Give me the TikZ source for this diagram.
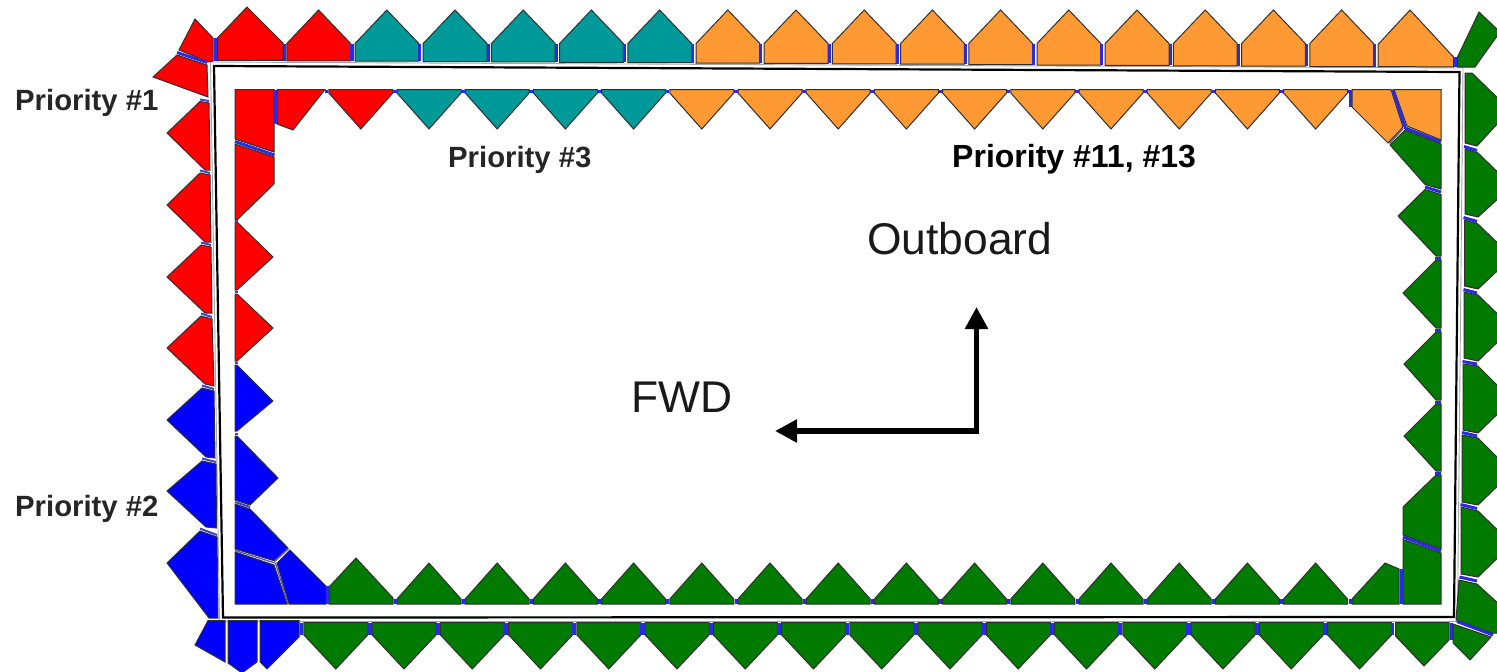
\documentclass[tikz,border=0pt]{standalone}
\usepackage{fontspec}
\setmainfont{Liberation Sans}
\usetikzlibrary{arrows.meta}
\definecolor{cred}{HTML}{FF0000}
\definecolor{cblue}{HTML}{0000FF}
\definecolor{cteal}{HTML}{009999}
\definecolor{corange}{HTML}{FF9933}
\definecolor{cgreen}{HTML}{007A00}
\definecolor{cgap}{HTML}{2A2AE0}
\definecolor{cedge}{HTML}{303030}
\tikzset{
  piece/.style={draw=cedge,line width=1pt,line join=miter,miter limit=3},
  gapline/.style={draw=cgap,line width=3pt},
  softgap/.style={draw=cgap!70!gray,line width=2pt},
  thinseam/.style={draw=cgap!55!gray,line width=1.2pt},
  greyjoin/.style={draw=black!60,line width=1.6pt},
  framehalo/.style={draw=black!35,line width=0.9pt},
  frameline/.style={draw=black,line width=2.2pt,line join=miter},
  tagtext/.style={inner sep=0pt,anchor=base west,text=black!85,font=\bfseries\fontsize{29.3}{29}\selectfont},
  tagdark/.style={inner sep=0pt,anchor=base west,text=black,font=\bfseries\fontsize{32}{32}\selectfont},
  dirtext/.style={inner sep=0pt,anchor=base west,text=black!90,font=\fontsize{44.4}{44}\selectfont},
  dirarrow/.style={draw=black,line width=5.5pt,-{Triangle[length=22pt,width=22pt]}}
}
\begin{document}
\begin{tikzpicture}[x=1pt,y=-1pt]
\path[use as bounding box,clip] (0,0) rectangle (1497,672);
\fill[white] (0,0) rectangle (1497,672);

% ---------- frame
\draw[framehalo] (210.5,62) -- (1463,68) -- (1457.5,621.5) -- (219.5,621.5) -- cycle;
\draw[frameline] (214,66) -- (1459.5,72) -- (1454,617) -- (223,617.5) -- cycle;

% ---------- outer top row
\foreach \k/\co in {-2/cred,-1/cteal,0/cteal,1/cteal,2/cteal,3/cteal,4/corange,5/corange,6/corange,7/corange,8/corange,9/corange,10/corange,11/corange,12/corange,13/corange}{
  \pgfmathsetmacro{\g}{421+68.2*\k}
  \pgfmathsetmacro{\b}{60+(\g-217)*0.00565}
  \pgfmathsetmacro{\xl}{\g+2.2}
  \pgfmathsetmacro{\xr}{\g+66}
  \pgfmathsetmacro{\xt}{\g+34}
  \pgfmathsetmacro{\xh}{\g+67.1}
  \pgfmathsetmacro{\bb}{\b+0.4}
  \filldraw[piece,fill=\co] (\xl,\bb) -- (\xl,43.5) -- (\xt,10) -- (\xr,43.5) -- (\xr,\bb) -- cycle;
  \draw[gapline] (\xh,44) -- (\xh,\bb);
}
\draw[gapline] (284.6,44) -- (284.6,60.5);
\draw[gapline] (215.5,38) -- (215.5,60.5);
\filldraw[piece,fill=cred] (217.5,38) -- (247,7) -- (283,43) -- (283,60.4) -- (217.5,60.4) -- cycle;
\draw[gapline] (352.8,44) -- (352.8,60.8);
\filldraw[piece,fill=corange] (1378,66.5) -- (1378,44.5) -- (1410,10) -- (1453.5,57) -- (1453.5,67) -- cycle;
\draw[gapline] (1455.5,57) -- (1455.5,67);
\filldraw[piece,fill=cgreen] (1457.5,57) -- (1479,12) -- (1500,32) -- (1475,67) -- (1457.5,67) -- cycle;

% ---------- outer left column
\filldraw[piece,fill=cred] (179,50) -- (195,19) -- (213,38) -- (213,61) -- (208,62) -- cycle;
\filldraw[piece,fill=cred] (177,55) -- (207,65) -- (208,97) -- (153,77) -- cycle;
\draw[gapline] (177,52.5) -- (207,62.5);
\filldraw[piece,fill=cred] (200,101.5) -- (209,103) -- (210,170) -- (205,170) -- (167,133) -- cycle;
\filldraw[piece,fill=cred] (200,173) -- (210,175) -- (211,242) -- (205,242) -- (167,205) -- cycle;
\filldraw[piece,fill=cred] (201,245) -- (211,247) -- (212,313) -- (205,313) -- (167,277) -- cycle;
\filldraw[piece,fill=cred] (201,316) -- (212,319) -- (214,386) -- (205,384) -- (167,348) -- cycle;
\filldraw[piece,fill=cblue] (202,388) -- (214,391) -- (215,458) -- (206,457) -- (167,420) -- cycle;
\filldraw[piece,fill=cblue] (202,461) -- (216,464) -- (216.5,528) -- (206,527) -- (167,491) -- cycle;
\filldraw[piece,fill=cblue] (200,531) -- (217,537) -- (218,618) -- (209,618) -- (180,580) -- (167,563) -- cycle;
\draw[softgap] (200,99.5) -- (209,101);
\draw[softgap] (200,170.5) -- (210,173);
\draw[softgap] (201,242.5) -- (211,245);
\draw[softgap] (201,313.5) -- (212,317);
\draw[softgap] (202,385.5) -- (214,389);
\draw[softgap] (202,458.5) -- (216,462);
\draw[softgap] (200,528.5) -- (217,535);

% ---------- outer bottom row
\filldraw[piece,fill=cblue] (208,620.5) -- (225,620.5) -- (225,662) -- (195,645) -- cycle;
\filldraw[piece,fill=cblue] (228,620.5) -- (257,620.5) -- (257,662) -- (242,673) -- (228,663) -- cycle;
\filldraw[piece,fill=cblue] (260,620.5) -- (299,620.5) -- (299,637) -- (267,669) -- (260,662) -- cycle;
\foreach \k in {-1,0,1,2,3,4,5,6,7,8,9,10,11,12,13,14}{
  \pgfmathsetmacro{\g}{370+68.25*\k}
  \pgfmathsetmacro{\xl}{\g+2.2}
  \pgfmathsetmacro{\xr}{\g+66}
  \pgfmathsetmacro{\xt}{\g+34}
  \pgfmathsetmacro{\xh}{\g+67.1}
  \filldraw[piece,fill=cgreen] (\xl,622.5) -- (\xr,622.5) -- (\xr,635) -- (\xt,669) -- (\xl,635) -- cycle;
  \draw[gapline] (\g,623) -- (\g,635);
  \draw[gapline] (\xh,623) -- (\xh,635);
}
\filldraw[piece,fill=cgreen] (1395.5,622.5) -- (1449,622.5) -- (1449,640) -- (1424,666) -- (1395.5,636) -- cycle;
\draw[gapline] (1451,623) -- (1451,640);
\filldraw[piece,fill=cgreen] (1453,624) -- (1491,637) -- (1470,660) -- (1453,643) -- cycle;

% ---------- outer right column
\filldraw[piece,fill=cgreen] (1465,73) -- (1472,73) -- (1510,110) -- (1477,146) -- (1465,143) -- cycle;
\filldraw[piece,fill=cgreen] (1465,149) -- (1478,153) -- (1512,186) -- (1478,217) -- (1465,214) -- cycle;
\filldraw[piece,fill=cgreen] (1464.5,220) -- (1478,224) -- (1512,257) -- (1478,289) -- (1464.5,286) -- cycle;
\filldraw[piece,fill=cgreen] (1464,292) -- (1478,295) -- (1512,328) -- (1478,361) -- (1464,358) -- cycle;
\filldraw[piece,fill=cgreen] (1463,364) -- (1478,366) -- (1512,400) -- (1478,433) -- (1463,430) -- cycle;
\filldraw[piece,fill=cgreen] (1462,435) -- (1478,438) -- (1512,472) -- (1478,505) -- (1462,502) -- cycle;
\filldraw[piece,fill=cgreen] (1461,507) -- (1478,511) -- (1512,544) -- (1478,577) -- (1461,574) -- cycle;
\filldraw[piece,fill=cgreen] (1459,580) -- (1477,584) -- (1500,605) -- (1500,633) -- (1492,633) -- (1456,620) -- cycle;
\draw[gapline] (1464,146.5) -- (1477,150.5);
\draw[gapline] (1463.5,217.5) -- (1477,221.5);
\draw[gapline] (1463.5,289.5) -- (1477,293);
\draw[gapline] (1462.5,361.5) -- (1477,364);
\draw[gapline] (1462,432.5) -- (1477,436);
\draw[gapline] (1460.5,504.5) -- (1477,508.5);
\draw[gapline] (1459.5,577) -- (1477,581);
\draw[gapline] (1457,621.5) -- (1493,635);

% ---------- inner top row
\foreach \k/\co in {-1/cred,0/cteal,1/cteal,2/cteal,3/cteal,4/corange,5/corange,6/corange,7/corange,8/corange,9/corange,10/corange,11/corange,12/corange,13/corange}{
  \pgfmathsetmacro{\g}{395+68.2*\k}
  \pgfmathsetmacro{\xl}{\g+2}
  \pgfmathsetmacro{\xr}{\g+66}
  \pgfmathsetmacro{\xt}{\g+34}
  \pgfmathsetmacro{\xh}{\g+67.6}
  \filldraw[piece,fill=\co] (\xl,89.5) -- (\xr,89.5) -- (\xr,93) -- (\xt,129) -- (\xl,93) -- cycle;
  \draw[gapline] (\g,90) -- (\g,93);
  \draw[gapline] (\xh,90) -- (\xh,93);
}
\filldraw[piece,fill=cred] (277,89.5) -- (325,89.5) -- (293,130) -- (277,124) -- cycle;
\filldraw[piece,fill=cred] (235,89.5) -- (274,89.5) -- (274,152) -- (235,139) -- cycle;
\draw[gapline] (275.5,90) -- (275.5,124);
\draw[gapline] (235,141.5) -- (274.5,155);
\filldraw[piece,fill=corange] (1352,89.5) -- (1391,89.5) -- (1403,127) -- (1388,143) -- (1352,107) -- cycle;
\filldraw[piece,fill=corange] (1394,89.5) -- (1441,89.5) -- (1441,140) -- (1407,126) -- cycle;
\draw[gapline] (1350,90) -- (1350,107);
\draw[gapline] (1392.5,89.5) -- (1405,127);
\draw[gapline] (1404,127.5) -- (1441,142);

% ---------- inner right column
\filldraw[piece,fill=cgreen] (1390,145) -- (1405,130) -- (1441,144) -- (1441,189) -- (1425,184.5) -- cycle;
\draw[greyjoin] (1403,128.5) -- (1389.5,143.5);
\draw[gapline] (1425,187) -- (1441,192);
\filldraw[piece,fill=cgreen] (1425,189.5) -- (1441,194.5) -- (1441,256) -- (1436,256) -- (1398,216) -- cycle;
\filldraw[piece,fill=cgreen] (1436,260) -- (1441,260) -- (1441,328) -- (1436,328) -- (1403,293) -- cycle;
\filldraw[piece,fill=cgreen] (1436,332) -- (1441,332) -- (1441,400) -- (1436,400) -- (1404,364) -- cycle;
\filldraw[piece,fill=cgreen] (1436,404) -- (1441,404) -- (1441,471) -- (1436,471) -- (1404,436) -- cycle;
\filldraw[piece,fill=cgreen] (1436,475) -- (1441,475) -- (1441,549) -- (1403,535) -- (1403,507) -- cycle;
\filldraw[piece,fill=cgreen] (1403,539.5) -- (1441,553) -- (1441,604) -- (1403,604) -- cycle;
\draw[gapline] (1435,258) -- (1441,258);
\draw[gapline] (1435,330) -- (1441,330);
\draw[gapline] (1435,402) -- (1441,402);
\draw[gapline] (1435,473) -- (1441,473);
\draw[gapline] (1403,537) -- (1441,551);

% ---------- inner bottom row
\filldraw[piece,fill=cgreen] (329,587) -- (356,558) -- (393,598) -- (393,604) -- (329,604) -- cycle;
\foreach \k in {0,1,2,3,4,5,6,7,8,9,10,11,12,13}{
  \pgfmathsetmacro{\g}{395+68.2*\k}
  \pgfmathsetmacro{\xl}{\g+2}
  \pgfmathsetmacro{\xr}{\g+66}
  \pgfmathsetmacro{\xt}{\g+34}
  \filldraw[piece,fill=cgreen] (\xl,604) -- (\xl,599) -- (\xt,563) -- (\xr,599) -- (\xr,604) -- cycle;
  \draw[gapline] (\g,599) -- (\g,604);
}
\filldraw[piece,fill=cgreen] (1352,604) -- (1352,599) -- (1385,563) -- (1399,569) -- (1399,604) -- cycle;
\draw[gapline] (1350,599) -- (1350,604);
\draw[gapline] (1401,569) -- (1401,604);

% ---------- inner left column
\filldraw[piece,fill=cred] (235,144) -- (274,157) -- (274,184) -- (237,220) -- (235,220) -- cycle;
\filldraw[piece,fill=cred] (235,222) -- (237,222) -- (273,257) -- (237,290) -- (235,290) -- cycle;
\filldraw[piece,fill=cred] (235,294) -- (237,294) -- (273,328) -- (237,361) -- (235,361) -- cycle;
\filldraw[piece,fill=cblue] (235,365) -- (237,365) -- (273,401) -- (237,431) -- (235,431) -- cycle;
\filldraw[piece,fill=cblue] (235,436) -- (237,436) -- (278,478) -- (250,505) -- (235,500) -- cycle;
\filldraw[piece,fill=cblue] (235,504) -- (250,509) -- (288,548) -- (275,561) -- (235,549) -- cycle;
\filldraw[piece,fill=cblue] (235,552) -- (274,565) -- (287,604) -- (235,604) -- cycle;
\filldraw[piece,fill=cblue] (277,563) -- (290,550) -- (326,586) -- (326,604) -- (289,604) -- cycle;
\draw[softgap] (235,292) -- (238,292);
\draw[softgap] (235,220.5) -- (238,220.5);
\draw[softgap] (235,363) -- (238,363);
\draw[softgap] (235,433.5) -- (238,433.5);
\draw[softgap] (235,502) -- (250,507);
\draw[thinseam] (235,550.5) -- (275,563);
\draw[thinseam] (275.5,563) -- (288,604);
\draw[greyjoin] (275,561) -- (288.5,548.5);
\draw[gapline] (327.5,586) -- (327.5,604);

% ---------- labels
\node[tagtext] (p1) at (15,110) {Priority \#1};
\node[tagtext] (p2) at (15,516) {Priority \#2};
\node[tagtext] (p3) at (448,167) {Priority \#3};
\node[tagdark] (p11) at (952,167) {Priority \#11, \#13};
\node[dirtext] (outb) at (867,254) {Outboard};
\node[dirtext] (fwd) at (631.5,412) {FWD};

% ---------- direction arrows
\coordinate (corner) at (976.5,431);
\coordinate (uptip) at (976.5,307);
\coordinate (lefttip) at (775,431);
\draw[dirarrow] ([xshift=-2.75pt]corner) ++(2.75pt,2.75pt) -- (uptip);
\draw[dirarrow] ([xshift=2.75pt]corner) -- (lefttip);
\end{tikzpicture}
\end{document}
